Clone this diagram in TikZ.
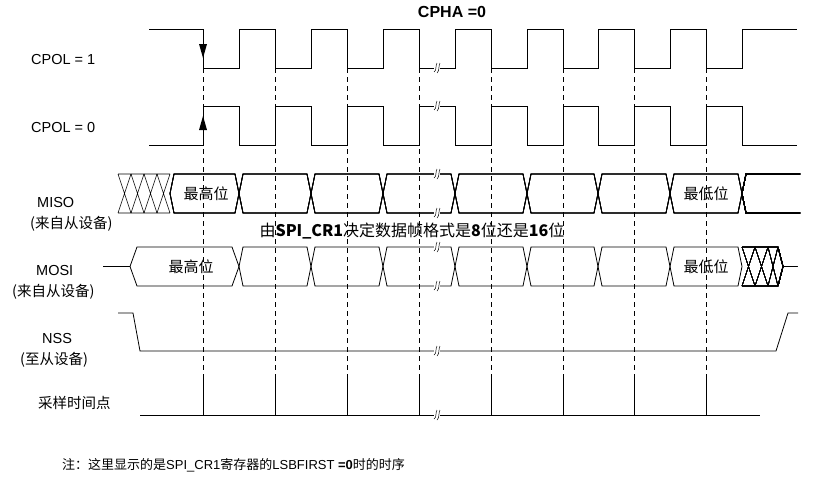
\documentclass[tikz,border=0pt]{standalone}
\usepackage{fontspec}
\usetikzlibrary{arrows.meta}
\setmainfont{Liberation Sans}
\newfontfamily\cjk{Noto Sans CJK SC}
\begin{document}
\begin{tikzpicture}[x=1pt,y=-1pt,
  wave/.style={line width=0.8pt},
  guide/.style={dash pattern=on 5pt off 4pt,line width=0.5pt},
  lbl/.style={anchor=west,font=\fontsize{14.5}{17}\selectfont,inner sep=0pt},
  cell/.style={font=\fontsize{15}{17}\selectfont,inner sep=0pt},
  brk/.pic={\fill[white] (-3,-5) rectangle (3,5);
    \draw[line width=0.5pt] (-3,4) .. controls (0,2) and (-2,-1) .. (0,-5);
    \draw[line width=0.5pt] (0,5) .. controls (3,2) and (1,-1) .. (3,-5);}]
\useasboundingbox (0,0) rectangle (824,480);
\newcommand\dcell[6]{\draw[wave] (#1,#4)--(#1+#6,#3)--(#2-#6,#3)--(#2,#4)--(#2-#6,#5)--(#1+#6,#5)--cycle;}
\newcommand\hcell[5]{\draw[line width=0.6pt] (#1,#3)--(#2,#5) (#1,#5)--(#2,#3) (#1,#3)--(#2,#3) (#1,#5)--(#2,#5);}
% title
\node[font=\bfseries\fontsize{16}{18}\selectfont] (title) at (452,12) {CPHA =0};
% labels
\node[lbl] (l1) at (31,60) {CPOL = 1};
\node[lbl] (l0) at (31,128) {CPOL = 0};
\node[lbl] (lmiso) at (37,203) {MISO};
\node[lbl] (lmiso2) at (30,224) {\cjk (来自从设备)};
\node[lbl] (lmosi) at (36,271) {MOSI};
\node[lbl] (lmosi2) at (12,292) {\cjk (来自从设备)};
\node[lbl] (lnss) at (42,339) {NSS};
\node[lbl] (lnss2) at (20,360) {\cjk (至从设备)};
\node[lbl] (lsmp) at (38,403) {\cjk 采样时间点};
\node[font=\fontsize{16}{18}\selectfont,inner sep=0pt] (mid) at (412,231) {\cjk 由\textbf{SPI\_CR1}决定数据帧格式是\textbf{8}位还是\textbf{16}位};
\node[lbl,font=\fontsize{13}{15}\selectfont] (note) at (62,465) {\cjk 注：这里显示的是\rmfamily SPI\_CR1\cjk 寄存器的\rmfamily LSBFIRST \textbf{=0}\cjk 时的时序};
% guides
\foreach \x in {203,275,347,419,491,563,634,706} \draw[guide] (\x,68) -- (\x,376);
% CPOL1
\draw[wave] (149,29) -- (203,29) -- (203,68) -- (239,68) -- (239,29) -- (275,29) -- (275,68) -- (311,68) -- (311,29) -- (347,29) -- (347,68) -- (383,68) -- (383,29) -- (419,29) -- (419,68) -- (455,68) -- (455,29) -- (491,29) -- (491,68) -- (527,68) -- (527,29) -- (563,29) -- (563,68) -- (598,68) -- (598,29) -- (634,29) -- (634,68) -- (670,68) -- (670,29) -- (706,29) -- (706,68) -- (742,68) -- (742,29) -- (797,29);
\fill (199,44) -- (207,44) -- (203,58) -- cycle;
% CPOL0
\draw[wave] (149,145) -- (203,145) -- (203,106) -- (239,106) -- (239,145) -- (275,145) -- (275,106) -- (311,106) -- (311,145) -- (347,145) -- (347,106) -- (383,106) -- (383,145) -- (419,145) -- (419,106) -- (455,106) -- (455,145) -- (491,145) -- (491,106) -- (527,106) -- (527,145) -- (563,145) -- (563,106) -- (598,106) -- (598,145) -- (634,145) -- (634,106) -- (670,106) -- (670,145) -- (706,145) -- (706,106) -- (742,106) -- (742,145) -- (797,145);
\fill (199,130) -- (207,130) -- (203,116) -- cycle;
% MISO
\foreach \a/\b in {118/131,131/144,144/157,157/170} \hcell{\a}{\b}{174}{193.5}{213}
\dcell{170}{239}{174}{193.5}{213}{4}
\foreach \a/\b in {239/311,311/383,383/455,455/527,527/598,598/670,670/742} \dcell{\a}{\b}{174}{193.5}{213}{4}
\draw[wave] (800,174) -- (746,174) -- (742,193.5) -- (746,213) -- (800,213);
\node[cell] (m1) at (206,194) {\cjk 最高位};
\node[cell] (m2) at (706,194) {\cjk 最低位};
% MOSI
\draw[wave] (103,266.5) -- (130,266.5);
\dcell{130}{239}{247}{266.5}{286}{7}
\foreach \a/\b in {239/311,311/383,383/455,455/527,527/598,598/670,670/742} \dcell{\a}{\b}{247}{266.5}{286}{4}
\foreach \a/\b in {742/755,755/768,768/778} \hcell{\a}{\b}{247}{266.5}{286}
\draw[wave] (778,247) -- (783,266.5) -- (778,286) (783,266.5) -- (797,266.5);
\node[cell] (s1) at (191,267) {\cjk 最高位};
\node[cell] (s2) at (706,267) {\cjk 最低位};
% NSS
\draw[wave] (118,313) -- (133,313) -- (140,351) -- (776,351) -- (788,313) -- (798,313);
% sampling
\draw[wave] (140,415) -- (760,415);
\foreach \x in {203,275,347,419,491,563,634,706} \draw[wave] (\x,376) -- (\x,415);
% breaks
\foreach \y in {68,106,174,213,247,286,351,415} \pic at (437,\y) {brk};
\end{tikzpicture}
\end{document}
